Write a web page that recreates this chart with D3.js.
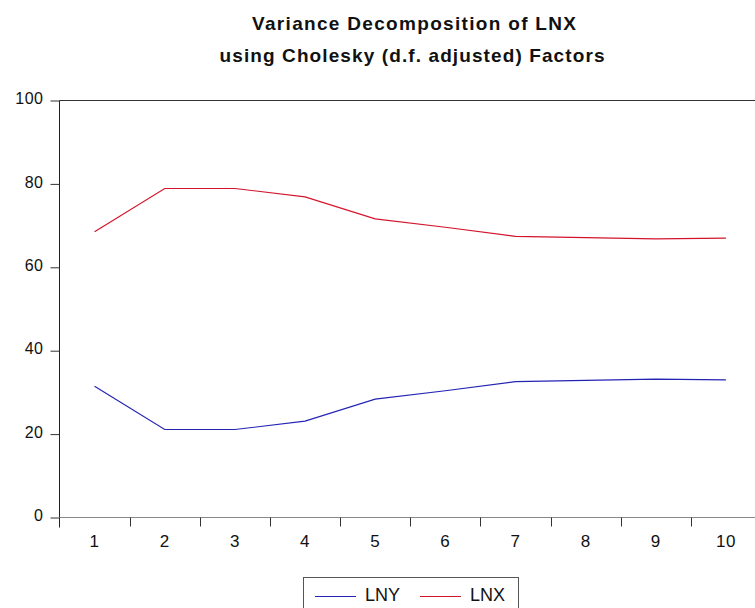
<!DOCTYPE html>
<html>
<head>
<meta charset="utf-8">
<title>Variance Decomposition of LNX</title>
<script src="https://d3js.org/d3.v7.min.js"></script>
<style>
  body { margin: 0; background: #fff; }
  text { font-family: "Liberation Sans", Arial, sans-serif; fill: #111; }
</style>
</head>
<body>
<div id="chart"></div>
<script>
// periods and series
var periods = [1, 2, 3, 4, 5, 6, 7, 8, 9, 10];
var lny = [31.5, 21.1, 21.1, 23.1, 28.4, 30.4, 32.6, 32.9, 33.2, 33.0];
var lnx = [68.5, 78.9, 78.9, 76.9, 71.6, 69.6, 67.4, 67.1, 66.8, 67.0];
var yTicks = [0, 20, 40, 60, 80, 100];
var seriesNames = ["LNY", "LNX"];
var seriesColors = ["#2424b4", "#d4142c"];

var W = 755, H = 608;
var plotL = 59.5, plotT = 100.5, plotB = 517.5, plotR = 761;

var svg = d3.select("#chart").append("svg")
    .attr("width", W).attr("height", H);

// title
var title = svg.append("g");
title.append("text").attr("x", 414).attr("y", 30)
    .attr("text-anchor", "middle").style("font-size", "19px").style("font-weight", "bold")
    .attr("textLength", 324).attr("lengthAdjust", "spacing")
    .text("Variance Decomposition of LNX");
title.append("text").attr("x", 412).attr("y", 62)
    .attr("text-anchor", "middle").style("font-size", "19px").style("font-weight", "bold")
    .attr("textLength", 385).attr("lengthAdjust", "spacing")
    .text("using Cholesky (d.f. adjusted) Factors");

var x = d3.scaleBand().domain(periods).range([plotL, plotR]);
var y = d3.scaleLinear().domain([0, 100]).range([plotB, plotT]);

// top frame line
svg.append("line").attr("x1", plotL).attr("x2", W).attr("y1", plotT).attr("y2", plotT)
    .attr("stroke", "#333").attr("stroke-width", 1);

// y axis
var yAxis = svg.append("g").attr("transform", "translate(" + plotL + ",0)")
    .call(d3.axisLeft(y).tickValues(yTicks).tickSize(9).tickPadding(7));
yAxis.select(".domain").remove();
yAxis.selectAll(".tick line").attr("stroke", "#333");
yAxis.selectAll(".tick text").style("font-size", "16px").style("letter-spacing", "0.5px")
    .attr("dy", "0.2em").attr("fill", "#111");
svg.append("line").attr("x1", plotL).attr("x2", plotL).attr("y1", plotT).attr("y2", plotB + 10)
    .attr("stroke", "#222");

// x axis
var xAxis = svg.append("g").attr("transform", "translate(0," + plotB + ")")
    .call(d3.axisBottom(x).tickSize(0).tickPadding(17));
xAxis.select(".domain").remove();
xAxis.selectAll(".tick text").style("font-size", "17px").style("letter-spacing", "0.5px")
    .attr("fill", "#111");
svg.append("line").attr("x1", plotL).attr("x2", W).attr("y1", plotB).attr("y2", plotB)
    .attr("stroke", "#888");
svg.append("g").selectAll("line")
    .data(periods.slice(1))
    .enter().append("line")
    .attr("x1", function(d) { return Math.round(x(d)) + 0.5; })
    .attr("x2", function(d) { return Math.round(x(d)) + 0.5; })
    .attr("y1", plotB).attr("y2", plotB + 9)
    .attr("stroke", "#333");

// lines
var line = d3.line()
    .x(function(d, i) { return x(periods[i]) + x.bandwidth() / 2; })
    .y(function(d) { return y(d); });

[lny, lnx].forEach(function(s, i) {
  svg.append("path").datum(s)
      .attr("d", line)
      .attr("fill", "none")
      .attr("stroke", seriesColors[i])
      .attr("stroke-width", 1.2);
});

// legend
var lg = svg.append("g");
lg.append("rect").attr("x", 303.5).attr("y", 577.5).attr("width", 215).attr("height", 40)
    .attr("fill", "#fff").attr("stroke", "#555");
var items = [{x: 315, tx: 365}, {x: 420, tx: 470}];
seriesNames.forEach(function(n, i) {
  lg.append("line").attr("x1", items[i].x).attr("x2", items[i].x + 41)
      .attr("y1", 596.5).attr("y2", 596.5)
      .attr("stroke", seriesColors[i]).attr("stroke-width", 1.2);
  lg.append("text").attr("x", items[i].tx).attr("y", 601)
      .style("font-size", "18px").text(n);
});
</script>
</body>
</html>
